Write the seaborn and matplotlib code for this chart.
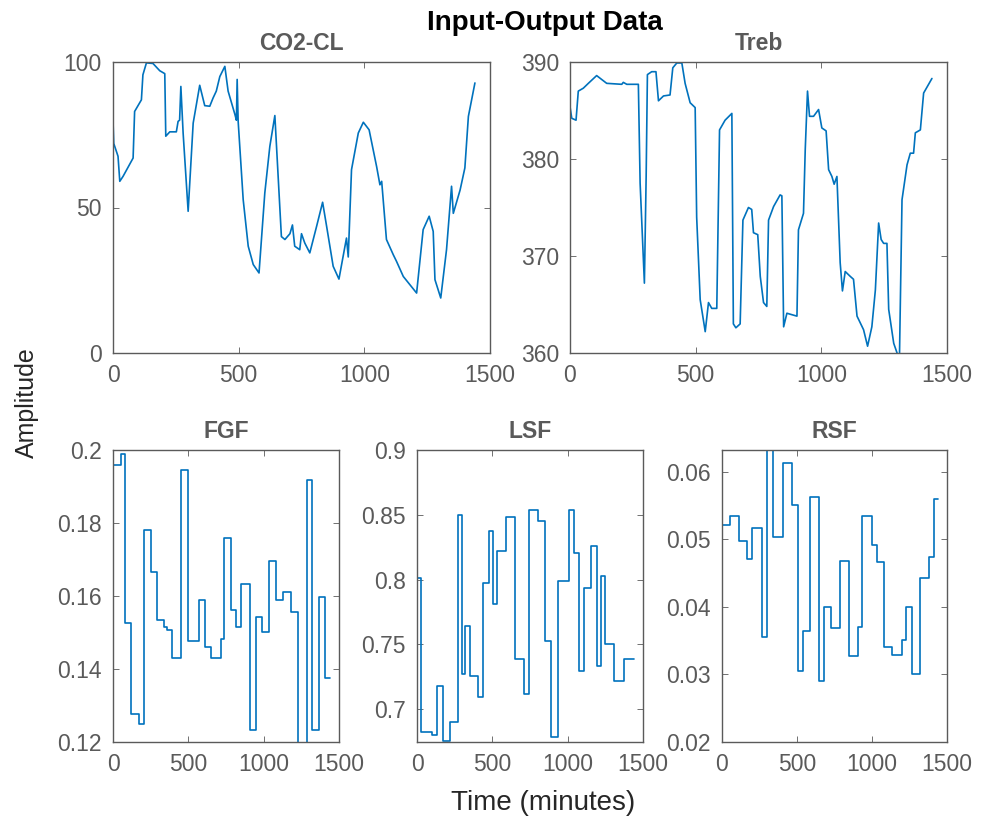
import numpy as np
import pandas as pd
import matplotlib
matplotlib.use("Agg")
import matplotlib.pyplot as plt
import seaborn as sns

# ---------------- data ----------------
co2_t = [0, 3, 20, 27, 40, 80, 86, 113, 119, 133, 159, 186, 206, 210, 226, 252, 259, 265, 270, 279,
         299, 319, 345, 365, 385, 398, 411, 425, 445, 458, 485, 491, 494, 498, 518, 538, 558, 581, 604,
         624, 644, 670, 684, 704, 714, 723, 743, 750, 763, 783, 810, 834, 850, 876, 899, 923, 929, 936,
         949, 976, 996, 1019, 1049, 1062, 1069, 1088, 1115, 1128, 1155, 1181, 1208, 1234, 1258, 1274,
         1281, 1304, 1327, 1347, 1354, 1381, 1400, 1414, 1440]
co2_v = [80, 72, 67.6, 59, 60.7, 67, 83, 87, 95.6, 99.7, 99.5, 97, 96, 74.5, 76, 76, 79.6, 80, 91.6, 75.6,
         48.7, 79, 92, 85, 84.8, 87.6, 90, 95, 98.5, 90, 82, 80, 94, 79.6, 52.7, 36.7, 30.4, 27.5, 55,
         71, 81.6, 40, 39, 41, 44, 36.7, 35.5, 41, 37.8, 34.4, 43.5, 51.8, 43.5, 29.8, 25.4, 36.7, 39.5, 33,
         63, 75.6, 79.3, 76.7, 64, 57.8, 59, 39, 33.8, 31.5, 26.3, 23.5, 20.6, 42.4, 47, 41.8,
         25.2, 18.9, 35.5, 57.3, 48, 56, 63.6, 81.3, 92.8]

treb_t = [0, 7, 24, 33, 53, 73, 106, 126, 146, 206, 212, 226, 272, 279, 296, 303, 308, 325, 342, 352,
          372, 398, 409, 425, 445, 458, 478, 498, 504, 518, 538, 551, 564, 584, 595, 617, 644, 650, 660,
          677, 688, 710, 723, 730, 747, 757, 770, 783, 790, 810, 836, 843, 850, 863, 876, 903, 909, 929,
          936, 945, 953, 969, 989, 1002, 1019, 1029, 1042, 1051, 1062, 1075, 1084, 1095, 1115, 1128,
          1142, 1168, 1184, 1201, 1215, 1228, 1238, 1248, 1261, 1268, 1288, 1304, 1311, 1321, 1341,
          1354, 1367, 1374, 1394, 1407, 1440]
treb_v = [385.4, 384.2, 384, 387, 387.3, 387.8, 388.6, 388.2, 387.8, 387.7, 387.9, 387.7, 387.7, 377.5,
          367.2, 378.2, 388.7, 389, 389, 386, 386.5, 386.6, 389.4, 389.9, 389.9, 387.8, 385.8, 385.3,
          374, 365.5, 362.2, 365.2, 364.6, 364.6, 383, 384, 384.7, 363, 362.6, 363, 373.7, 375, 374.8,
          372.4, 372.2, 367.9, 365.2, 364.8, 373.7, 375.1, 376.3, 376.2, 362.7, 364.1, 364, 363.8, 372.7,
          374.4, 381, 387, 384.4, 384.4, 385.1, 383.2, 382.9, 378.9, 378.2, 377.4, 378.2, 369.3, 366.4,
          368.4, 367.9, 367.6, 363.8, 362.4, 360.7, 362.7, 366.5, 373.4, 371.7, 371.3, 371.3, 364.5,
          361, 359.8, 359.8, 375.8, 379.4, 380.6, 380.6, 382.7, 383, 386.8, 388.3]

fgf_t = [0, 53, 82, 119, 174, 207, 251, 295, 339, 361, 394, 449, 497, 573, 610, 650, 720, 736, 780, 819,
         852, 907, 947, 991, 1033, 1079, 1128, 1183, 1227, 1286, 1319, 1366, 1410, 1440]
fgf_v = [0.1959, 0.1989, 0.1525, 0.1278, 0.125, 0.178, 0.1666, 0.1534, 0.1515, 0.1506, 0.1429, 0.1945,
         0.1477, 0.1589, 0.1461, 0.1429, 0.1483, 0.1758, 0.1561, 0.1515, 0.1632, 0.1232, 0.1543, 0.1502,
         0.1696, 0.1589, 0.161, 0.1557, 0.118, 0.1918, 0.1232, 0.1598, 0.1374, 0.1374]

lsf_t = [0, 26, 98, 131, 175, 218, 273, 299, 321, 354, 404, 437, 476, 506, 530, 594, 651, 709, 742, 801,
         851, 891, 939, 1009, 1041, 1074, 1109, 1157, 1194, 1218, 1249, 1310, 1371, 1440]
lsf_v = [0.8013, 0.682, 0.680, 0.718, 0.675, 0.690, 0.85, 0.7274, 0.764, 0.7256, 0.709, 0.7974, 0.8372,
         0.7808, 0.8218, 0.848, 0.7385, 0.7115, 0.8538, 0.8449, 0.7526, 0.6787, 0.7987, 0.8538, 0.8205,
         0.7295, 0.7936, 0.8256, 0.7333, 0.8026, 0.75, 0.7218, 0.739, 0.739]

rsf_t = [0, 52, 114, 164, 197, 264, 298, 338, 405, 464, 504, 538, 585, 645, 683, 728, 788, 847, 907, 936,
         997, 1030, 1082, 1136, 1198, 1227, 1266, 1321, 1377, 1415, 1440]
rsf_v = [0.0521, 0.0535, 0.0497, 0.0471, 0.0516, 0.0356, 0.0632, 0.0503, 0.0613, 0.0551, 0.0305, 0.0364,
         0.0563, 0.029, 0.040, 0.0369, 0.0468, 0.0327, 0.037, 0.0535, 0.0491, 0.0467, 0.0341, 0.0329,
         0.0351, 0.0399, 0.030, 0.0443, 0.0474, 0.0559, 0.0559]

x_ticks = [0, 500, 1000, 1500]
x_ticklabels = ["0", "500", "1000", "1500"]
co2_yticks = [0, 50, 100]
co2_yticklabels = ["0", "50", "100"]
treb_yticks = [360, 370, 380, 390]
treb_yticklabels = ["360", "370", "380", "390"]
fgf_yticks = [0.12, 0.14, 0.16, 0.18, 0.2]
fgf_yticklabels = ["0.12", "0.14", "0.16", "0.18", "0.2"]
lsf_yticks = [0.7, 0.75, 0.8, 0.85, 0.9]
lsf_yticklabels = ["0.7", "0.75", "0.8", "0.85", "0.9"]
rsf_yticks = [0.02, 0.03, 0.04, 0.05, 0.06]
rsf_yticklabels = ["0.02", "0.03", "0.04", "0.05", "0.06"]

titles = ["CO2-CL", "Treb", "FGF", "LSF", "RSF"]

# ---------------- style ----------------
sns.set_theme(style="white")
plt.rcParams["font.family"] = ["Liberation Sans", "DejaVu Sans"]

LINE = "#0072BD"
GRAY = "#5a5a5a"
TICK_FS = 16.5
TITLE_FS = 16.5

W, H = 981, 825
fig = plt.figure(figsize=(W / 100, H / 100), dpi=100)
fig.patch.set_facecolor("white")


def add_ax(left, top, right, bottom):
    return fig.add_axes([left / W, 1 - bottom / H, (right - left) / W, (bottom - top) / H])


specs = [
    (add_ax(113, 62, 490, 353), co2_t, co2_v, False, (0, 100), co2_yticks, co2_yticklabels),
    (add_ax(570, 62, 947, 353), treb_t, treb_v, False, (360, 390), treb_yticks, treb_yticklabels),
    (add_ax(113, 450, 339, 742), fgf_t, fgf_v, True, (0.12, 0.2), fgf_yticks, fgf_yticklabels),
    (add_ax(417, 450, 643, 742), lsf_t, lsf_v, True, (0.6746, 0.9), lsf_yticks, lsf_yticklabels),
    (add_ax(722, 450, 947, 742), rsf_t, rsf_v, True, (0.02, 0.0632), rsf_yticks, rsf_yticklabels),
]

for (ax, t, v, step, ylim, yt, ytl), title in zip(specs, titles):
    df = pd.DataFrame({"t": t, "v": v})
    kw = dict(drawstyle="steps-post") if step else {}
    sns.lineplot(data=df, x="t", y="v", ax=ax, color=LINE, linewidth=1.2,
                 estimator=None, sort=False, **kw)
    ax.set_xlim(0, 1500)
    ax.set_ylim(*ylim)
    ax.set_xticks(x_ticks)
    ax.set_xticklabels(x_ticklabels)
    ax.set_yticks(yt)
    ax.set_yticklabels(ytl)
    ax.set_xlabel("")
    ax.set_ylabel("")
    ax.set_title(title, fontsize=TITLE_FS, fontweight="bold", color=GRAY, pad=9)
    ax.tick_params(direction="in", length=4, width=0.6, colors=GRAY, labelsize=TICK_FS,
                   top=True, right=True, bottom=True, left=True, pad=8)
    for s in ax.spines.values():
        s.set_color(GRAY)
        s.set_linewidth(1.0)
        s.set_visible(True)
    ax.set_facecolor("white")

fig.text(545 / W, 1 - 23 / H, "Input-Output Data", ha="center", va="center",
         fontsize=20, fontweight="bold", color="black")
fig.text(543 / W, 1 - 803 / H, "Time (minutes)", ha="center", va="center",
         fontsize=20, color="#262626")
fig.text(27 / W, 1 - 403 / H, "Amplitude", ha="center", va="center", rotation=90,
         fontsize=18, color="#262626")

fig.savefig("out.png", dpi=100, facecolor="white")
